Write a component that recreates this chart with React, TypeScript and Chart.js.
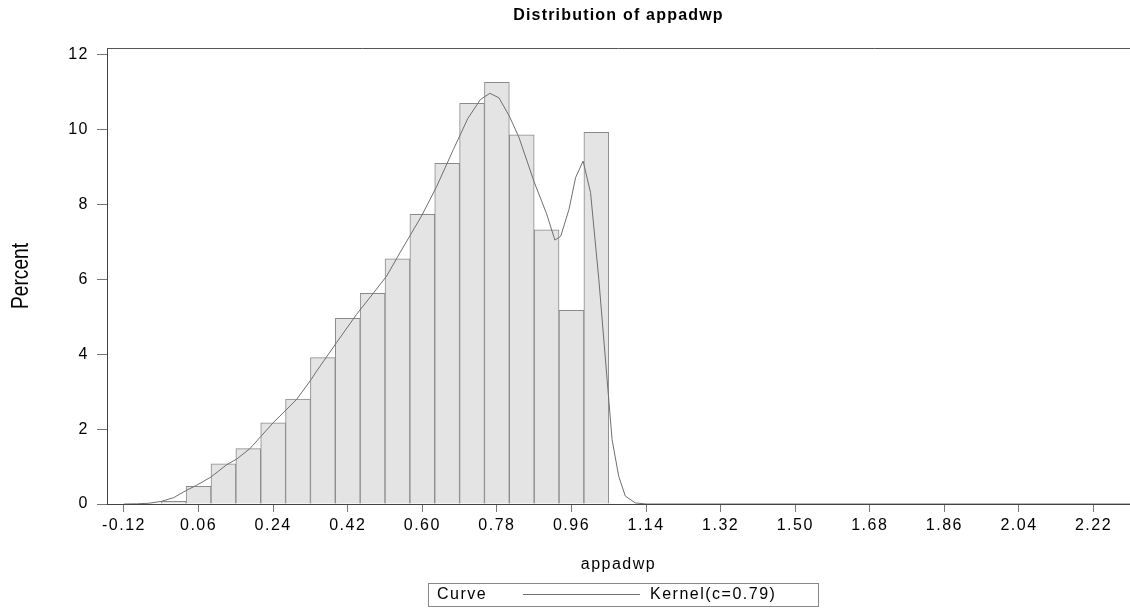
import React, { useEffect, useRef } from 'react';
import { Chart, registerables } from 'chart.js';

Chart.register(...registerables);

// Histogram bins (midpoints) and percentages
const binMidpoints = [0, 0.06, 0.12, 0.18, 0.24, 0.30, 0.36, 0.42, 0.48, 0.54, 0.60, 0.66, 0.72, 0.78, 0.84, 0.90, 0.96, 1.02];
const binPercents = [0.07, 0.47, 1.07, 1.48, 2.17, 2.8, 3.91, 4.96, 5.63, 6.55, 7.74, 9.1, 10.7, 11.26, 9.86, 7.32, 5.17, 9.93];

// Kernel density curve (x, percent)
const kernelX = [-0.12, -0.09, -0.06, -0.03, 0.0, 0.03, 0.055, 0.09, 0.128, 0.152, 0.184, 0.21, 0.24, 0.27, 0.297, 0.332, 0.345, 0.393, 0.441, 0.486, 0.514, 0.546, 0.598, 0.635, 0.675, 0.71, 0.74, 0.763, 0.785, 0.81, 0.833, 0.87, 0.90, 0.92, 0.934, 0.954, 0.97, 0.988, 1.006, 1.026, 1.046, 1.058, 1.074, 1.09, 1.114, 1.14, 2.308];
const kernelY = [0, 0.005, 0.02, 0.07, 0.17, 0.36, 0.5, 0.72, 1.05, 1.2, 1.48, 1.8, 2.17, 2.5, 2.8, 3.33, 3.55, 4.31, 5.06, 5.69, 6.09, 6.71, 7.69, 8.49, 9.47, 10.3, 10.8, 10.97, 10.85, 10.36, 9.8, 8.6, 7.75, 7.05, 7.15, 7.87, 8.72, 9.16, 8.32, 6.0, 3.33, 1.72, 0.74, 0.21, 0.03, 0, 0];

const xTickValues = [-0.12, 0.06, 0.24, 0.42, 0.60, 0.78, 0.96, 1.14, 1.32, 1.50, 1.68, 1.86, 2.04, 2.22];
const yTickValues = [0, 2, 4, 6, 8, 10, 12];

const titleText = 'Distribution of appadwp';
const xTitleText = 'appadwp';
const yTitleText = 'Percent';
const legendTitle = 'Curve';
const legendLabel = 'Kernel(c=0.79)';

const FONT = '"Liberation Sans", Arial, Helvetica, sans-serif';

const decorPlugin = {
  id: 'decor',
  beforeDraw(chart: any) {
    (chart.ctx as any).letterSpacing = '1.5px';
  },
  afterDraw(chart: any) {
    const ctx = chart.ctx as CanvasRenderingContext2D;
    const a = chart.chartArea;
    const cx = (a.left + a.right) / 2;
    ctx.save();
    // top frame line
    ctx.strokeStyle = '#555';
    ctx.lineWidth = 1;
    ctx.beginPath();
    ctx.moveTo(a.left, Math.round(a.top) + 0.5);
    ctx.lineTo(a.right, Math.round(a.top) + 0.5);
    ctx.stroke();

    ctx.fillStyle = '#000';
    (ctx as any).letterSpacing = '1.2px';
    ctx.textAlign = 'center';
    ctx.textBaseline = 'middle';
    ctx.font = `bold 16px ${FONT}`;
    ctx.fillText(titleText, cx, 16);

    (ctx as any).letterSpacing = '1.5px';
    ctx.font = `16px ${FONT}`;
    ctx.fillText(xTitleText, cx, 565);

    // y title (condensed)
    ctx.save();
    (ctx as any).letterSpacing = '0px';
    ctx.translate(21, (a.top + a.bottom) / 2);
    ctx.rotate(-Math.PI / 2);
    ctx.scale(0.8, 1);
    ctx.font = `24px ${FONT}`;
    ctx.fillText(yTitleText, 0, 0);
    ctx.restore();

    // legend
    ctx.strokeStyle = '#888';
    ctx.strokeRect(428.5, 583.5, 390, 23);
    ctx.textAlign = 'left';
    ctx.textBaseline = 'middle';
    (ctx as any).letterSpacing = '1.5px';
    ctx.font = `16px ${FONT}`;
    ctx.fillText(legendTitle, 437, 595);
    ctx.strokeStyle = '#6f6f6f';
    ctx.beginPath();
    ctx.moveTo(523, 594.5);
    ctx.lineTo(640, 594.5);
    ctx.stroke();
    ctx.fillText(legendLabel, 650, 595);
    ctx.restore();
  },
};

export default function App() {
  const ref = useRef<HTMLCanvasElement | null>(null);
  useEffect(() => {
    document.body.style.margin = '0';
    if (!ref.current) return;
    const chart = new Chart(ref.current, {
      type: 'bar',
      data: {
        datasets: [
          {
            type: 'line',
            label: legendLabel,
            data: kernelX.map((x, i) => ({ x, y: kernelY[i] })),
            borderColor: '#6f6f6f',
            borderWidth: 1,
            pointRadius: 0,
            tension: 0,
            fill: false,
            order: 0,
          } as any,
          {
            type: 'bar',
            label: 'Percent',
            data: binMidpoints.map((x, i) => ({ x, y: binPercents[i] })),
            backgroundColor: '#e4e4e4',
            borderColor: '#8a8a8a',
            borderWidth: 1,
            barPercentage: 1,
            categoryPercentage: 1,
            order: 1,
          } as any,
        ],
      },
      options: {
        animation: false,
        responsive: false,
        maintainAspectRatio: false,
        layout: { padding: { top: 48, right: 0, left: 0, bottom: 0 } },
        plugins: {
          legend: { display: false },
          title: { display: false },
          tooltip: { enabled: false },
        },
        scales: {
          x: {
            type: 'linear',
            min: -0.161,
            max: 2.308,
            offset: false,
            afterBuildTicks: (s: any) => {
              s.ticks = xTickValues.map((v) => ({ value: v }));
            },
            afterFit: (s: any) => {
              s.height = 108;
            },
            ticks: {
              callback: (v: any) => Number(v).toFixed(2),
              font: { family: FONT, size: 16 },
              color: '#000',
              padding: 4,
              maxRotation: 0,
              autoSkip: false,
            },
            grid: {
              display: true,
              offset: false,
              drawOnChartArea: false,
              drawTicks: true,
              tickLength: 8,
              color: '#777',
            },
            border: { display: true, color: '#444', width: 1 },
          },
          y: {
            type: 'linear',
            min: 0,
            max: 12.18,
            afterBuildTicks: (s: any) => {
              s.ticks = yTickValues.map((v) => ({ value: v }));
            },
            afterFit: (s: any) => {
              s.width = 107;
            },
            ticks: {
              font: { family: FONT, size: 16 },
              color: '#000',
              padding: 8,
            },
            grid: {
              display: true,
              drawOnChartArea: false,
              drawTicks: true,
              tickLength: 10,
              color: '#777',
            },
            border: { display: true, color: '#444', width: 1 },
          },
        },
      } as any,
      plugins: [decorPlugin],
    });
    return () => chart.destroy();
  }, []);
  return (
    <canvas ref={ref} width={1130} height={612} style={{ display: 'block', width: 1130, height: 612 }} />
  );
}
